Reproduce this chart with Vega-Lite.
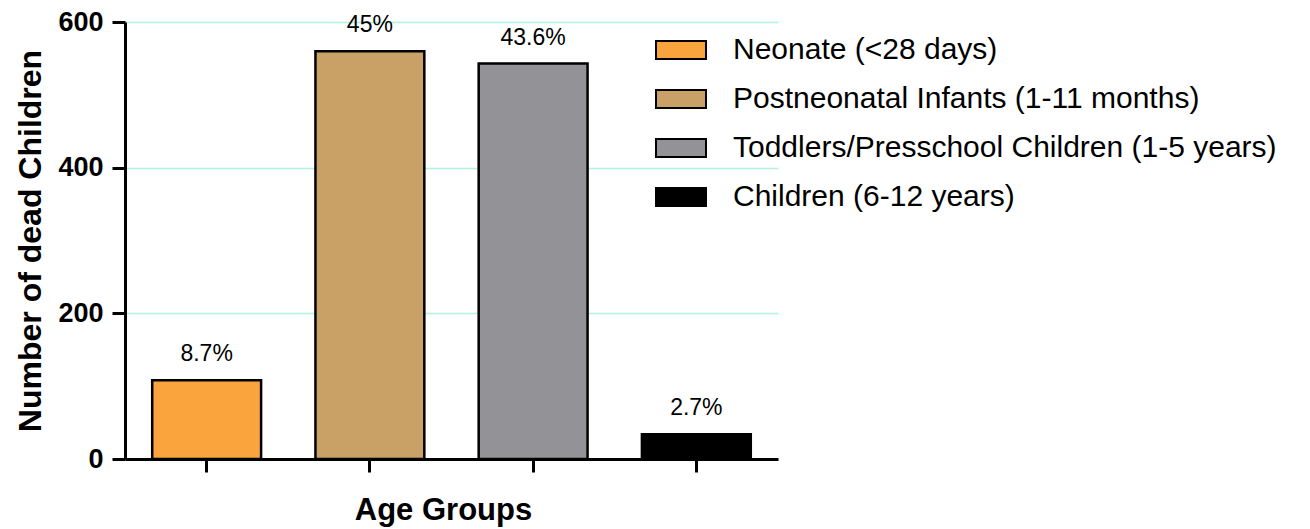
{
  "$schema": "https://vega.github.io/schema/vega-lite/v6.json",
  "width": 653,
  "height": 437,
  "autosize": {"type": "none"},
  "padding": {"left": 125, "top": 22, "right": 532, "bottom": 70},
  "background": "white",
  "config": {
    "view": {"stroke": null},
    "font": "Liberation Sans"
  },
  "data": {
    "values": [
      {"group": "Neonate (<28 days)", "count": 108, "label": "8.7%"},
      {"group": "Postneonatal Infants (1-11 months)", "count": 560, "label": "45%"},
      {"group": "Toddlers/Presschool Children (1-5 years)", "count": 543, "label": "43.6%"},
      {"group": "Children (6-12 years)", "count": 34, "label": "2.7%"}
    ]
  },
  "encoding": {
    "x": {
      "field": "group",
      "type": "nominal",
      "sort": null,
      "scale": {"paddingInner": 0.333, "paddingOuter": 0.1667},
      "axis": {
        "title": "Age Groups",
        "titleFont": "Liberation Sans",
        "titleFontSize": 31,
        "titleFontWeight": "bold",
        "titleColor": "black",
        "titlePadding": 22,
        "titleX": 318,
        "labels": false,
        "domainColor": "black",
        "domainWidth": 3,
        "tickColor": "black",
        "tickWidth": 3,
        "tickSize": 13
      }
    },
    "y": {
      "field": "count",
      "type": "quantitative",
      "scale": {"domain": [0, 600], "nice": false},
      "axis": {
        "title": "Number of dead Children",
        "titleFont": "Liberation Sans",
        "titleFontSize": 32,
        "titleFontWeight": "bold",
        "titleColor": "black",
        "titlePadding": 10,
        "values": [0, 200, 400, 600],
        "labelFont": "Liberation Sans",
        "labelFontSize": 27,
        "labelFontWeight": "bold",
        "labelColor": "black",
        "labelPadding": 9,
        "domainColor": "black",
        "domainWidth": 3,
        "tickColor": "black",
        "tickWidth": 3,
        "tickSize": 13,
        "grid": true,
        "gridColor": "#b0f2e2",
        "gridWidth": 1.5
      }
    }
  },
  "layer": [
    {
      "mark": {"type": "bar", "stroke": "black", "strokeWidth": 2.5},
      "encoding": {
        "color": {
          "field": "group",
          "type": "nominal",
          "sort": null,
          "scale": {
            "domain": ["Neonate (<28 days)", "Postneonatal Infants (1-11 months)", "Toddlers/Presschool Children (1-5 years)", "Children (6-12 years)"],
            "range": ["#f9a43c", "#c9a066", "#939397", "#000000"]
          },
          "legend": {
            "title": null,
            "orient": "none",
            "legendX": 530,
            "legendY": 2,
            "labelFont": "Liberation Sans",
            "labelFontSize": 30,
            "labelColor": "black",
            "labelOffset": 26,
            "rowPadding": 8,
            "symbolType": "M-1,-0.36L1,-0.36L1,0.36L-1,0.36Z",
            "symbolSize": 2500,
            "symbolStrokeColor": "black",
            "symbolStrokeWidth": 2,
            "symbolOpacity": 1,
            "labelLimit": 700
          }
        }
      }
    },
    {
      "mark": {"type": "text", "baseline": "bottom", "dy": -14, "fontSize": 23, "font": "Liberation Sans", "color": "black"},
      "encoding": {
        "text": {"field": "label"}
      }
    }
  ]
}
